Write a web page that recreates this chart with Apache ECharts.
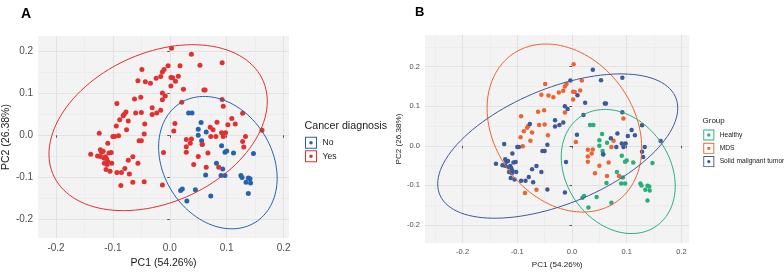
<!DOCTYPE html>
<html>
<head>
<meta charset="utf-8">
<script src="https://cdn.jsdelivr.net/npm/echarts@6/dist/echarts.min.js"></script>
<style>
  html, body { margin: 0; padding: 0; background: #fff; }
  #main { width: 784px; height: 274px; }
</style>
</head>
<body>
<div id="main"></div>
<script>
// PCA scores [PC1, PC2], grouped as in panel B.
// Panel A uses the same points: No = Healthy, Yes = MDS + Solid malignant tumor
const healthy = [
  [0.033, 0.053], [0.039, 0.053], [0.055, 0.030], [0.050, 0.014], [0.064, 0.008],
  [0.050, 0.000], [0.056, -0.013], [0.057, -0.022], [0.091, -0.025], [0.097, -0.040],
  [0.100, -0.037], [0.112, -0.042], [0.147, -0.043], [0.082, -0.066], [0.093, -0.080],
  [0.090, -0.095], [0.097, -0.095], [0.063, -0.094], [0.125, -0.095], [0.127, -0.100],
  [0.138, -0.101], [0.141, -0.103], [0.134, -0.111], [0.142, -0.113], [0.138, -0.138],
  [0.045, -0.129], [0.019, -0.131], [0.022, -0.127], [0.072, -0.144], [0.030, -0.156]
];
const mds = [
  [-0.049, 0.156], [-0.056, 0.129], [-0.043, 0.127], [-0.034, 0.123], [-0.024, 0.135],
  [-0.016, 0.139], [-0.013, 0.150], [-0.010, 0.156], [-0.013, 0.084], [-0.062, 0.086],
  [-0.051, 0.090], [-0.093, 0.075], [-0.060, 0.053], [-0.050, 0.054], [-0.080, 0.050],
  [-0.082, 0.046], [-0.088, 0.037], [-0.073, 0.034], [-0.094, 0.022], [-0.076, 0.013],
  [-0.044, 0.027], [-0.090, -0.001], [0.003, 0.206], [0.018, 0.165], [0.002, 0.137],
  [0.005, 0.136], [0.015, 0.140], [0.002, 0.117], [0.094, 0.069], [0.007, 0.010],
  [0.076, 0.013], [0.072, -0.003], [0.029, -0.010], [0.038, -0.009], [0.036, -0.019],
  [0.029, -0.027], [0.029, -0.040], [0.067, -0.042], [0.050, -0.050], [0.042, -0.069],
  [0.064, -0.076], [0.086, -0.076], [-0.086, -0.119], [-0.065, -0.111]
];
const solid = [
  [-0.013, 0.100], [-0.008, 0.093], [-0.031, 0.065], [-0.016, 0.059], [-0.023, 0.053],
  [-0.031, 0.049], [-0.077, 0.055], [-0.045, 0.003], [-0.124, 0.005], [-0.100, -0.003],
  [-0.003, 0.165], [0.038, 0.192], [0.092, 0.172], [0.053, 0.166], [0.010, 0.128],
  [0.024, 0.109], [0.060, 0.107], [0.062, 0.107], [0.021, 0.078], [0.092, 0.085],
  [0.128, 0.052], [0.109, 0.040], [0.083, 0.031], [0.102, 0.025], [0.115, 0.027],
  [0.009, 0.028], [0.071, 0.019], [0.091, 0.006], [0.098, 0.006], [0.162, 0.012],
  [0.081, -0.003], [0.133, -0.003], [0.094, -0.003], [0.128, -0.015], [0.057, -0.021],
  [0.130, -0.028], [-0.011, -0.041], [-0.013, -0.118], [-0.097, -0.003], [-0.054, -0.013],
  [-0.050, -0.013], [-0.109, -0.019], [-0.139, -0.045], [-0.122, -0.034], [-0.117, -0.038],
  [-0.120, -0.040], [-0.107, -0.042], [-0.103, -0.041], [-0.127, -0.049], [-0.122, -0.050],
  [-0.113, -0.051], [-0.111, -0.056], [-0.116, -0.054], [-0.109, -0.062], [-0.115, -0.066],
  [-0.110, -0.069], [-0.102, -0.066], [-0.073, -0.059], [-0.065, -0.051], [-0.056, -0.066],
  [-0.112, -0.081], [-0.105, -0.085], [-0.079, -0.079], [-0.093, -0.088], [-0.085, -0.088],
  [-0.071, -0.092], [-0.045, -0.110]
];

// 95% ellipses: [centre x, centre y, var x, var y, cov xy]
const ellNo = [0.0845, -0.0648, 0.01085, 0.02459, -0.00383];
const ellYes = [-0.0205, 0.018, 0.0368, 0.03865, 0.01199];
const ellMds = [-0.0139, 0.045, 0.01997, 0.04507, -0.0071];
const ellSolid = [-0.0261, -0.0005, 0.04813, 0.03324, 0.02102];

const majorTicks = [-0.2, -0.1, 0, 0.1, 0.2];
const minorTicksA = [-0.15, -0.05, 0.05, 0.15];
const minorTicksBx = [-0.25, -0.15, -0.05, 0.05, 0.15];
const minorTicksBy = [-0.15, -0.05, 0.05, 0.15, 0.25];

const colNo = '#2563af', colYes = '#e3302f';
const colHealthy = '#27b079', colMds = '#ef6331', colSolid = '#3d5a98';

function ellipse (p) {
  const [cx, cy, sxx, syy, sxy] = p;
  const a = Math.sqrt(sxx), b = sxy / a, c = Math.sqrt(syy - b * b);
  let pts = [];
  for (let i = 0; i <= 120; i++) {
    let t = i / 120 * Math.PI * 2;
    pts.push([cx + a * Math.cos(t), cy + b * Math.cos(t) + c * Math.sin(t)]);
  }
  return pts;
}

const fmt = v => Math.abs(v) < 1e-9 ? '0.0' : v.toFixed(1);
const font = '"Liberation Sans", Arial, sans-serif';
const keyIcon = 'path://M0,0L12,0L12,12L0,12Z M1,1L1,11L11,11L11,1Z M4.2,6A1.8,1.8,0,1,1,7.8,6A1.8,1.8,0,1,1,4.2,6Z';

function majorAxis (grid, min, max, pos, fs, name, nameGap, nameFs) {
  return {
    type: 'value', gridIndex: grid, min: min, max: max, position: pos,
    axisLine: { show: false },
    axisTick: { show: true, length: 2.5, lineStyle: { color: '#555' }, customValues: majorTicks },
    axisLabel: { customValues: majorTicks, formatter: fmt, fontSize: fs, color: '#4d4d4d', margin: 5, fontFamily: font },
    splitLine: { show: true, lineStyle: { color: '#e2e2e2', width: 1 } },
    name: name, nameLocation: 'middle', nameGap: nameGap,
    nameTextStyle: { fontSize: nameFs, color: '#1a1a1a', fontFamily: font }
  };
}
function minorAxis (grid, min, max, pos, ticks) {
  return {
    type: 'value', gridIndex: grid, min: min, max: max, position: pos,
    axisLine: { show: false },
    axisTick: { show: false, customValues: ticks },
    axisLabel: { show: false, customValues: ticks },
    splitLine: { show: true, lineStyle: { color: '#ebebeb', width: 0.8 } }
  };
}
function dots (name, data, color, xi, yi, size) {
  return {
    name: name, type: 'scatter', xAxisIndex: xi, yAxisIndex: yi, data: data,
    symbolSize: size, itemStyle: { color: color, opacity: 1 }, z: 3
  };
}
function ring (name, p, color, xi, yi) {
  return {
    name: name, type: 'line', xAxisIndex: xi, yAxisIndex: yi, data: ellipse(p),
    showSymbol: false, symbol: 'none', smooth: false, silent: true,
    lineStyle: { color: color, width: 1 }, itemStyle: { color: color }, z: 4
  };
}

const chart = echarts.init(document.getElementById('main'));
chart.setOption({
  animation: false,
  backgroundColor: '#fff',
  title: [
    { text: 'A', left: 16, top: 2, textStyle: { fontSize: 14, fontWeight: 'bold', color: '#000', fontFamily: font } },
    { text: 'B', left: 410, top: 1, textStyle: { fontSize: 13, fontWeight: 'bold', color: '#000', fontFamily: font } },
    { text: 'Cancer diagnosis', left: 304.5, top: 120.5, padding: 0, textStyle: { fontSize: 10.7, fontWeight: 'normal', color: '#1a1a1a', fontFamily: font } },
    { text: 'Group', left: 702.5, top: 117, padding: 0, textStyle: { fontSize: 8, fontWeight: 'normal', color: '#1a1a1a', fontFamily: font } }
  ],
  grid: [
    { left: 35, top: 36, width: 254, height: 210.7, show: true, backgroundColor: '#f3f3f3', borderWidth: 0 },
    { left: 425, top: 35, width: 264.3, height: 214, show: true, backgroundColor: '#f3f3f3', borderWidth: 0 }
  ],
  xAxis: [
    majorAxis(0, -0.2314, 0.2095, 'bottom', 10, 'PC1 (54.26%)', 14.5, 10.5),
    minorAxis(0, -0.2314, 0.2095, 'top', minorTicksA),
    majorAxis(1, -0.2687, 0.2144, 'bottom', 7.5, 'PC1 (54.26%)', 12, 8.1),
    minorAxis(1, -0.2687, 0.2144, 'top', minorTicksBx)
  ],
  yAxis: [
    majorAxis(0, -0.2436, 0.2352, 'left', 10, 'PC2 (26.38%)', 22.5, 10.5),
    minorAxis(0, -0.2436, 0.2352, 'right', minorTicksA),
    majorAxis(1, -0.2457, 0.2801, 'left', 7.5, 'PC2 (26.38%)', 16, 8.1),
    minorAxis(1, -0.2457, 0.2801, 'right', minorTicksBy)
  ],
  legend: [
    {
      data: [{ name: 'No', icon: keyIcon }, { name: 'Yes', icon: keyIcon }],
      orient: 'vertical', left: 305, top: 136.7, padding: 0,
      itemWidth: 13, itemHeight: 12, itemGap: 1.5, selectedMode: false,
      textStyle: { fontSize: 8.6, color: '#1a1a1a', fontFamily: font }
    },
    {
      data: [{ name: 'Healthy', icon: keyIcon }, { name: 'MDS', icon: keyIcon }, { name: 'Solid malignant tumor', icon: keyIcon }],
      orient: 'vertical', left: 703.3, top: 129.5, padding: 0,
      itemWidth: 11.7, itemHeight: 11, itemGap: 2.3, selectedMode: false,
      textStyle: { fontSize: 6.7, color: '#1a1a1a', fontFamily: font }
    }
  ],
  series: [
    dots('No', healthy, colNo, 0, 0, 5),
    dots('Yes', mds.concat(solid), colYes, 0, 0, 5),
    ring('No', ellNo, colNo, 0, 0),
    ring('Yes', ellYes, colYes, 0, 0),
    dots('Healthy', healthy, colHealthy, 2, 2, 4.5),
    dots('MDS', mds, colMds, 2, 2, 4.5),
    dots('Solid malignant tumor', solid, colSolid, 2, 2, 4.5),
    ring('Healthy', ellNo, colHealthy, 2, 2),
    ring('MDS', ellMds, colMds, 2, 2),
    ring('Solid malignant tumor', ellSolid, colSolid, 2, 2)
  ]
});
</script>
</body>
</html>
